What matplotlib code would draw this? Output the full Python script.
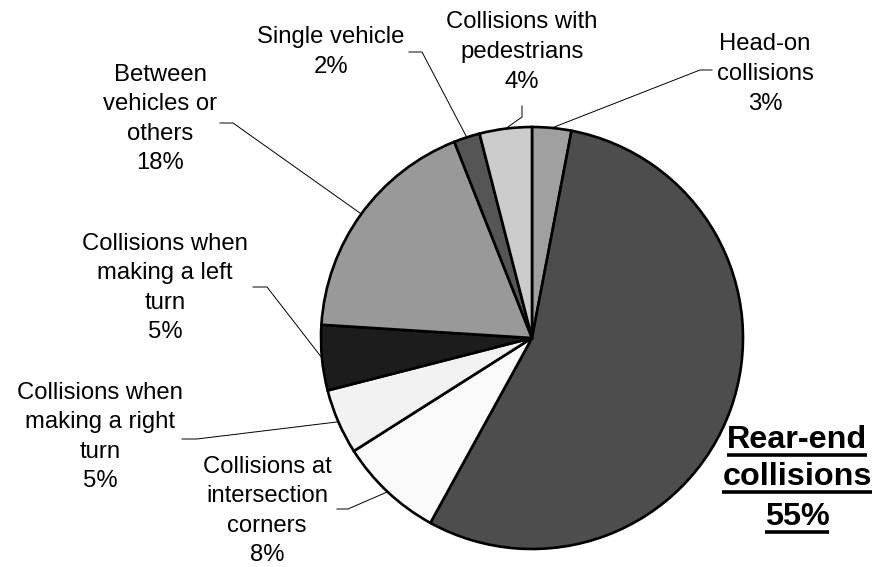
import matplotlib
matplotlib.use("Agg")
import matplotlib.pyplot as plt
import numpy as np

categories = ["Head-on\ncollisions", "Rear-end\ncollisions", "Collisions at\nintersection\ncorners",
              "Collisions when\nmaking a right\nturn", "Collisions when\nmaking a left\nturn",
              "Between\nvehicles or\nothers", "Single vehicle", "Collisions with\npedestrians"]
values = [3, 55, 8, 5, 5, 18, 2, 4]
colors = ["#a0a0a0", "#4d4d4d", "#fafafa", "#f2f2f2", "#1c1c1c", "#999999", "#555555", "#cccccc"]

# label layout in pixel coordinates: (text center x, text center y, elbow x, elbow y, end x)
W, H = 873, 567
CX, CY, R = 532, 338, 211
layout = {
    0: (765, 74, 700, 70, 712),
    2: (267, 511, 348, 509, 337),
    3: (100, 437, 197, 439, 182),
    4: (165, 288, 267, 287, 253),
    5: (160, 119, 233, 123, 220),
    6: (331, 52, 422, 52, 409),
    7: (522, 52, 522, 117, 522),
}

plt.rcParams['font.family'] = ['Liberation Sans', 'DejaVu Sans']
fig = plt.figure(figsize=(W / 100, H / 100), dpi=100)
ax = fig.add_axes([0, 0, 1, 1])
ax.axis('off')

wedges, _ = ax.pie(values, colors=colors, startangle=90, counterclock=False, radius=1,
                   wedgeprops=dict(edgecolor='black', linewidth=1.9))
ax.set_xlim(-CX / R, (W - CX) / R)
ax.set_ylim(-(H - CY) / R, CY / R)
ax.set_aspect('auto')

def px(x, y):
    return (x - CX) / R, (CY - y) / R

for i, w in enumerate(wedges):
    label = f"{categories[i]}\n{values[i]}%"
    if i == 1:
        continue
    tx, ty, ex, ey, endx = layout[i]
    mid = np.deg2rad((w.theta1 + w.theta2) / 2)
    sx, sy = np.cos(mid), np.sin(mid)
    e = px(ex, ey)
    en = px(endx, ey)
    if i == 7:
        en = px(endx, 106)
    ax.plot([sx, e[0], en[0]], [sy, e[1], en[1]], color='black', lw=0.7, zorder=1)
    t = px(tx, ty)
    ax.text(t[0], t[1], label, ha='center', va='center', fontsize=17.2,
            linespacing=1.45, color='black')

# Rear-end label: bold, underlined
fig.canvas.draw()
renderer = fig.canvas.get_renderer()
rear_lines = categories[1].split("\n") + [f"{values[1]}%"]
rear_y = [440, 477, 517]
inv = ax.transData.inverted()
for line, yy in zip(rear_lines, rear_y):
    p = px(797, yy)
    t = ax.text(p[0], p[1], line, ha='center', va='center', fontsize=23.3,
                fontweight='bold', color='black')
    bb = t.get_window_extent(renderer=renderer)
    x0, _ = inv.transform((bb.x0, 0))
    x1, _ = inv.transform((bb.x1, 0))
    uy = px(0, yy + 15)[1]
    ax.plot([x0, x1], [uy, uy], color='black', lw=2.6, solid_capstyle='butt')

fig.savefig("out.png", dpi=100, facecolor='white')
